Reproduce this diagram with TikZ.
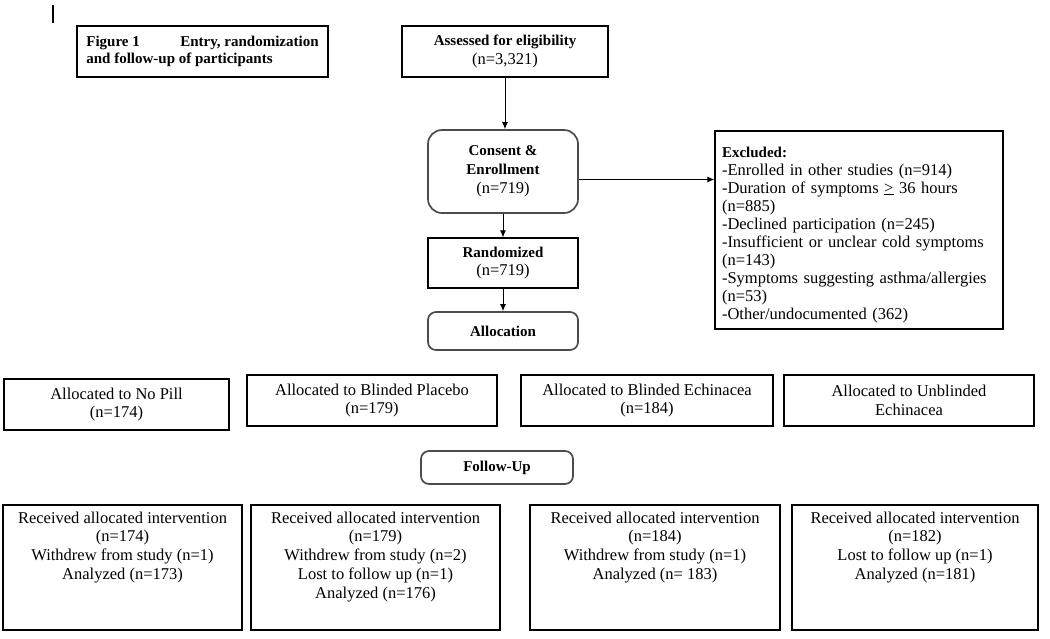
\documentclass[tikz,border=0pt]{standalone}
\usepackage{fontspec}
\setmainfont{Liberation Serif}
\usetikzlibrary{arrows.meta}
\newcommand{\txt}{\fontsize{16.5}{18.8}\selectfont}
\newcommand{\btxt}{\fontsize{15}{17}\selectfont\bfseries}

\begin{document}
\begin{tikzpicture}[x=1pt,y=-1pt,
  box/.style={draw,line width=1.1pt,inner sep=0pt,align=center,font=\txt},
  rbox/.style={box,rounded corners=14pt,draw=black!70,line width=1.7pt},
  outtxt/.style={anchor=north,yshift=-5pt,inner sep=2pt,align=center,font=\txt},
  arr/.style={line width=1pt,-{Latex[length=7pt,width=6pt]}}]

 \useasboundingbox (0,0) rectangle (1050,638);
 \draw[line width=2.5pt] (53,5) -- (53,23);

 \node[box,minimum width=251,minimum height=51,align=left,font=\btxt] (title) at (202.5,51.5) {Figure 1\hspace{2.7em}Entry, randomization\\and follow-up of participants};
 \node[box,minimum width=206,minimum height=51] (assess) at (505,51.5) {{\btxt Assessed for eligibility}\\(n=3,321)};
 \node[rbox,minimum width=150,minimum height=83] (consent) at (503,171.5) {{\btxt Consent \&}\\{\btxt Enrollment}\\(n=719)};
 \node[box,minimum width=150,minimum height=50] (rand) at (503,263) {{\btxt Randomized}\\(n=719)};
 \node[rbox,rounded corners=8pt,minimum width=150,minimum height=38,font=\btxt] (alloc) at (503,331) {Allocation};
 \node[box,minimum width=288,minimum height=198,label={[outtxt,yshift=-9pt,text width=274,align=left,font=\fontsize{16.5}{18}\selectfont]north:{{\btxt Excluded:}\\-Enrolled in other studies (n=914)\\-Duration of symptoms \underline{>} 36 hours\\(n=885)\\-Declined participation (n=245)\\-Insufficient or unclear cold symptoms\\(n=143)\\-Symptoms suggesting asthma/allergies\\(n=53)\\-Other/undocumented (362)}}] (excl) at (859,230) {};

 \node[box,minimum width=225,minimum height=51] (nopill) at (116.5,404.5) {Allocated to No Pill\\(n=174)};
 \node[box,minimum width=250,minimum height=51] (placebo) at (372,400.5) {Allocated to Blinded Placebo\\(n=179)};
 \node[box,minimum width=252,minimum height=51] (blind) at (647,400.5) {Allocated to Blinded Echinacea\\(n=184)};
 \node[box,minimum width=250,minimum height=51] (unblind) at (909,400.5) {Allocated to Unblinded\\Echinacea};

 \node[rbox,rounded corners=8pt,minimum width=152,minimum height=33,font=\btxt] (fu) at (497,467.5) {Follow-Up};

 \node[box,minimum width=239,minimum height=125,label={[outtxt]north:{Received allocated intervention\\(n=174)\\Withdrew from study (n=1)\\Analyzed (n=173)}}] (nopillout) at (122.5,567.5) {};
 \node[box,minimum width=249,minimum height=125,label={[outtxt]north:{Received allocated intervention\\(n=179)\\Withdrew from study (n=2)\\Lost to follow up (n=1)\\Analyzed (n=176)}}] (placeboout) at (375.5,567.5) {};
 \node[box,minimum width=250,minimum height=125,label={[outtxt]north:{Received allocated intervention\\(n=184)\\Withdrew from study (n=1)\\Analyzed (n= 183)}}] (blindout) at (655,567.5) {};
 \node[box,minimum width=246,minimum height=125,label={[outtxt]north:{Received allocated intervention\\(n=182)\\Lost to follow up (n=1)\\Analyzed (n=181)}}] (unblindout) at (915,567.5) {};

 \draw[arr] (assess) -- (assess |- consent.north);
 \draw[arr] (consent) -- (rand);
 \draw[arr] (rand) -- (alloc);
 \draw[arr] ([yshift=-8pt]consent.east) -- ([yshift=-8pt]consent.east -| excl.west);
\end{tikzpicture}
\end{document}
